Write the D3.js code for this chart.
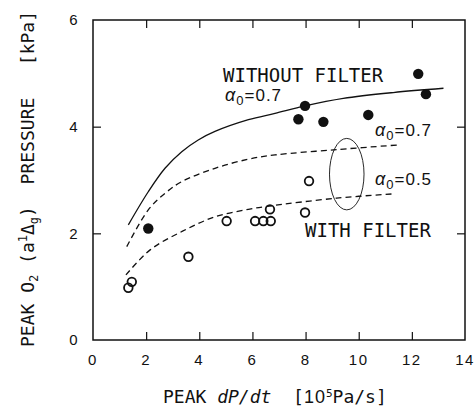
<!DOCTYPE html>
<html>
<head>
<meta charset="utf-8">
<script src="https://cdn.jsdelivr.net/npm/d3@7"></script>
<style>
  html, body { margin: 0; padding: 0; background: #fff; }
  svg text { fill: #111; }
  .tick-label { font-family: "Liberation Sans", Arial, sans-serif; font-size: 15px; letter-spacing: 1.5px; }
  .axis-title { font-family: "DejaVu Sans Mono", monospace; font-size: 18px; }
  .mono { font-family: "DejaVu Sans Mono", monospace; font-size: 19px; }
  .alpha { font-family: "Liberation Sans", Arial, sans-serif; font-size: 17px; letter-spacing: 1px; }
</style>
</head>
<body>
<div id="chart"></div>
<script>
// measured points, peak dP/dt [10^5 Pa/s] vs peak O2(a1Δg) pressure [kPa]
var withoutFilterX = [2.08, 7.73, 7.98, 8.67, 10.36, 12.24, 12.53];
var withoutFilterY = [2.09, 4.14, 4.39, 4.09, 4.22, 4.99, 4.61];

var withFilterX = [1.33, 1.46, 3.59, 5.03, 6.10, 6.41, 6.69, 6.66, 7.98, 8.13];
var withFilterY = [0.98, 1.09, 1.56, 2.23, 2.23, 2.23, 2.23, 2.45, 2.39, 2.98];

// calculated curves
var calcNoFilter07X = [1.33, 2.08, 2.71, 3.34, 3.96, 4.59, 5.85, 6.85, 7.98, 9.42, 11.3, 13.19];
var calcNoFilter07Y = [2.16, 2.78, 3.22, 3.53, 3.75, 3.91, 4.13, 4.25, 4.39, 4.53, 4.64, 4.72];

var calcFilter07X = [1.27, 2.08, 2.71, 3.34, 4.59, 5.85, 6.85, 9.17, 11.55];
var calcFilter07Y = [1.75, 2.44, 2.75, 2.97, 3.22, 3.39, 3.47, 3.57, 3.66];

var calcFilter05X = [1.24, 2.15, 3.37, 4.59, 5.85, 6.63, 9.17, 11.3];
var calcFilter05Y = [1.22, 1.69, 2.04, 2.31, 2.45, 2.51, 2.66, 2.74];

var xTicks = [0, 2, 4, 6, 8, 10, 12, 14];
var yTicks = [0, 2, 4, 6];

var width = 475, height = 409;
var margin = {top: 20, right: 10, bottom: 69, left: 93};
var innerW = width - margin.left - margin.right;
var innerH = height - margin.top - margin.bottom;

var x = d3.scaleLinear().domain([0, 14]).range([0, innerW]);
var y = d3.scaleLinear().domain([0, 6]).range([innerH, 0]);

var svg = d3.select('#chart').append('svg')
  .attr('width', width)
  .attr('height', height)
  .style('display', 'block');

var g = svg.append('g').attr('transform', 'translate(' + margin.left + ',' + margin.top + ')');

function zip(xs, ys) {
  return xs.map(function(v, i) { return [v, ys[i]]; });
}

// inward ticks on all four sides, labels are drawn separately
function inwardAxis(axisFn, scale, ticks) {
  return axisFn(scale).tickValues(ticks.slice(1, -1)).tickSize(-8).tickFormat('');
}

g.append('g').attr('transform', 'translate(0,' + innerH + ')').call(inwardAxis(d3.axisBottom, x, xTicks));
g.append('g').call(inwardAxis(d3.axisTop, x, xTicks));
g.append('g').call(inwardAxis(d3.axisLeft, y, yTicks));
g.append('g').attr('transform', 'translate(' + innerW + ',0)').call(inwardAxis(d3.axisRight, y, yTicks));
g.selectAll('.domain').remove();
g.selectAll('.tick line').attr('stroke', '#111').attr('stroke-width', 1.2);

g.append('rect')
  .attr('width', innerW)
  .attr('height', innerH)
  .attr('fill', 'none')
  .attr('stroke', '#111')
  .attr('stroke-width', 1.5);

// tick labels
g.selectAll('.xlab').data(xTicks).enter().append('text')
  .attr('class', 'tick-label')
  .attr('x', function(d) { return x(d); })
  .attr('y', innerH + 25)
  .attr('text-anchor', 'middle')
  .text(function(d) { return d; });

g.selectAll('.ylab').data(yTicks).enter().append('text')
  .attr('class', 'tick-label')
  .attr('x', -14)
  .attr('y', function(d) { return y(d); })
  .attr('dy', '0.36em')
  .attr('text-anchor', 'end')
  .text(function(d) { return d; });

// curves
var line = d3.line()
  .x(function(d) { return x(d[0]); })
  .y(function(d) { return y(d[1]); })
  .curve(d3.curveCatmullRom.alpha(0.5));

g.append('path').datum(zip(calcNoFilter07X, calcNoFilter07Y))
  .attr('d', line).attr('fill', 'none').attr('stroke', '#111').attr('stroke-width', 1.3);

[zip(calcFilter07X, calcFilter07Y), zip(calcFilter05X, calcFilter05Y)].forEach(function(pts) {
  g.append('path').datum(pts)
    .attr('d', line).attr('fill', 'none').attr('stroke', '#111')
    .attr('stroke-width', 1.3).attr('stroke-dasharray', '6,4');
});

// ellipse grouping the two dashed curves
var ellCx = 9.55, ellCy = 3.11, ellRx = 0.65, ellRy = 0.67;
g.append('ellipse')
  .attr('cx', x(ellCx)).attr('cy', y(ellCy))
  .attr('rx', x(ellCx + ellRx) - x(ellCx))
  .attr('ry', y(ellCy - ellRy) - y(ellCy))
  .attr('fill', 'none').attr('stroke', '#111').attr('stroke-width', 0.9);

// points
g.selectAll('.open').data(zip(withFilterX, withFilterY)).enter().append('circle')
  .attr('cx', function(d) { return x(d[0]); })
  .attr('cy', function(d) { return y(d[1]); })
  .attr('r', 4.3)
  .attr('fill', 'none')
  .attr('stroke', '#111')
  .attr('stroke-width', 1.8);

g.selectAll('.filled').data(zip(withoutFilterX, withoutFilterY)).enter().append('circle')
  .attr('cx', function(d) { return x(d[0]); })
  .attr('cy', function(d) { return y(d[1]); })
  .attr('r', 5.2)
  .attr('fill', '#111');

// annotations
function alphaLabel(px, py, val) {
  var t = g.append('text').attr('class', 'alpha').attr('x', px).attr('y', py);
  t.append('tspan').style('font-style', 'italic').style('font-size', '18px').text('α');
  t.append('tspan').attr('dy', 4).style('font-size', '13px').text('0');
  t.append('tspan').attr('dy', -4).text('=' + val);
}

g.append('text').attr('class', 'mono').attr('x', 223 - margin.left).attr('y', 82 - margin.top).text('WITHOUT FILTER');
alphaLabel(225 - margin.left, 101 - margin.top, '0.7');
alphaLabel(375 - margin.left, 136 - margin.top, '0.7');
alphaLabel(375 - margin.left, 185 - margin.top, '0.5');
g.append('text').attr('class', 'mono').attr('x', 305 - margin.left).attr('y', 237 - margin.top).text('WITH FILTER');

// axis titles
var nb = '\u00A0';
var xt = svg.append('text').attr('class', 'axis-title')
  .attr('x', 163).attr('y', 403);
xt.append('tspan').text('PEAK' + nb);
xt.append('tspan').style('font-style', 'italic').text('dP/dt');
xt.append('tspan').text(nb + nb + '[');
xt.append('tspan').style('font-family', '"Liberation Sans", Arial, sans-serif').style('letter-spacing', '1px').text('10');
xt.append('tspan').attr('dy', -6).style('font-size', '11px').text('5');
xt.append('tspan').attr('dy', 6).text('Pa/s]');

var yt = svg.append('text').attr('class', 'axis-title')
  .attr('transform', 'translate(34,347) rotate(-90)');
yt.append('tspan').text('PEAK' + nb + 'O');
yt.append('tspan').attr('dy', 4).style('font-size', '12px').text('2');
yt.append('tspan').attr('dy', -4).text(nb + '(a');
yt.append('tspan').attr('dy', -7).style('font-size', '12px').text('1');
yt.append('tspan').attr('dy', 7).text('Δ');
yt.append('tspan').attr('dy', 4).style('font-size', '12px').text('g');
yt.append('tspan').attr('dy', -4).text(')' + nb + nb + 'PRESSURE' + nb + nb + nb + '[kPa]');
</script>
</body>
</html>
